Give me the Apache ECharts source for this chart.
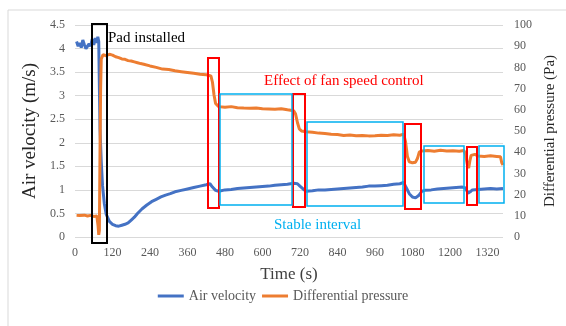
<!DOCTYPE html>
<html>
<head>
<meta charset="utf-8">
<script src="https://cdn.jsdelivr.net/npm/echarts@6/dist/echarts.min.js"></script>
<style>
  html, body { margin: 0; padding: 0; background: #fff; }
  #main { width: 566px; height: 326px; }
</style>
</head>
<body>
<div id="main"></div>
<script>
var myChart = echarts.init(document.getElementById('main'));

// 风速 (m/s)
var velTime = [5, 10, 15, 20, 25, 30, 35, 40, 45, 50, 55, 60, 65, 70, 73, 76, 78, 80, 84, 88, 94, 100, 110, 120, 130, 140, 150, 160, 170, 180, 190, 200, 215, 230, 245, 260, 275, 290, 305, 320, 340, 360, 380, 400, 420, 432, 440, 450, 460, 480, 500, 520, 540, 560, 580, 600, 620, 640, 660, 680, 700, 712, 720, 730, 740, 760, 780, 800, 820, 840, 860, 880, 900, 920, 940, 960, 980, 1000, 1020, 1040, 1052, 1060, 1070, 1080, 1090, 1100, 1110, 1120, 1140, 1160, 1180, 1200, 1220, 1240, 1250, 1258, 1265, 1272, 1290, 1310, 1330, 1350, 1370];
var velocity = [4.15, 4.05, 4.12, 4.02, 4.18, 4.08, 4.00, 3.98, 4.10, 4.05, 4.20, 4.08, 4.22, 4.12, 4.25, 4.15, 3.2, 2.3, 1.6, 1.1, 0.7, 0.48, 0.33, 0.27, 0.24, 0.23, 0.25, 0.27, 0.30, 0.36, 0.42, 0.50, 0.60, 0.68, 0.75, 0.80, 0.85, 0.89, 0.92, 0.96, 0.99, 1.02, 1.05, 1.08, 1.11, 1.13, 1.06, 0.99, 0.97, 1.00, 1.01, 1.03, 1.04, 1.05, 1.06, 1.07, 1.08, 1.10, 1.11, 1.12, 1.14, 1.13, 1.08, 1.02, 0.97, 0.98, 1.00, 1.00, 1.01, 1.02, 1.03, 1.04, 1.05, 1.06, 1.08, 1.08, 1.09, 1.10, 1.12, 1.13, 1.16, 1.05, 0.92, 0.85, 0.83, 0.88, 0.97, 0.99, 1.00, 1.02, 1.03, 1.04, 1.05, 1.06, 1.04, 0.93, 0.96, 1.00, 1.01, 1.02, 1.03, 1.02, 1.03];

// 压差 (Pa)
var presTime = [5, 10, 15, 20, 30, 40, 50, 60, 65, 70, 74, 76, 78, 80, 82, 84, 90, 100, 110, 120, 130, 140, 150, 160, 170, 180, 190, 200, 210, 220, 240, 260, 280, 300, 320, 340, 360, 380, 400, 420, 435, 440, 445, 450, 460, 480, 500, 520, 540, 560, 580, 600, 620, 640, 660, 680, 700, 706, 712, 718, 725, 740, 760, 780, 800, 820, 840, 860, 880, 900, 920, 940, 960, 980, 1000, 1020, 1040, 1052, 1058, 1064, 1070, 1080, 1090, 1096, 1102, 1110, 1130, 1150, 1170, 1190, 1210, 1230, 1245, 1250, 1256, 1260, 1264, 1268, 1280, 1290, 1310, 1330, 1350, 1362, 1366, 1370];
var pressure = [10.2, 9.6, 10.1, 9.8, 10.3, 9.9, 10.2, 9.7, 10.3, 9.9, 5.0, 1.0, 3, 40, 70, 84, 86, 85.5, 86.2, 85.8, 85.0, 84.6, 84.0, 83.8, 83.2, 83.0, 82.6, 82.2, 81.8, 81.5, 80.7, 80.0, 79.2, 79.0, 78.4, 78.0, 77.6, 77.2, 76.8, 76.5, 76.0, 73, 67, 63, 61.5, 61.2, 61.5, 61.0, 60.8, 60.7, 60.9, 60.5, 60.4, 60.3, 60.5, 60.0, 59.6, 58, 54, 51, 50, 49.6, 49.4, 49.0, 48.8, 48.5, 48.3, 47.9, 48.1, 47.8, 47.9, 47.7, 47.8, 48.0, 47.9, 48.2, 48.0, 48.5, 45, 38, 35.5, 35.0, 35.3, 37, 40, 40.6, 40.8, 40.5, 40.9, 40.6, 40.7, 40.5, 40.8, 39, 34, 32.5, 36, 38.5, 39, 38.2, 38.0, 38.3, 38.0, 37.8, 35, 34];

function pairs(xs, ys) {
    return xs.map(function (x, i) { return [x, ys[i]]; });
}

var serif = 'Liberation Serif';
function labelStyle(extra) {
    var s = { color: '#595959', fontFamily: serif, fontSize: 12, formatter: function (v) { return String(v); } };
    for (var k in extra) s[k] = extra[k];
    return s;
}
function note(x, y, text, color) {
    return { type: 'text', x: x, y: y, z: 100,
        style: { text: text, fill: color, fontFamily: serif, fontSize: 15, verticalAlign: 'middle' } };
}
function box(x, y, w, h, color, lw) {
    return { type: 'rect', z: 100, shape: { x: x, y: y, width: w, height: h },
        style: { fill: 'none', stroke: color, lineWidth: lw } };
}

var option = {
    animation: false,
    grid: { left: 75, right: 61, top: 25, bottom: 89 },
    legend: {
        bottom: 18,
        left: 'center',
        icon: 'rect',
        itemWidth: 26,
        itemHeight: 3,
        itemGap: 6,
        textStyle: { color: '#595959', fontFamily: serif, fontSize: 14 },
        data: ['Air velocity', 'Differential pressure']
    },
    xAxis: {
        type: 'value',
        min: 0,
        max: 1370,
        interval: 120,
        name: 'Time (s)',
        nameLocation: 'middle',
        nameGap: 29,
        nameTextStyle: { color: '#404040', fontFamily: serif, fontSize: 17 },
        axisLine: { show: false },
        axisTick: { show: false },
        splitLine: { show: false },
        axisLabel: labelStyle({ showMaxLabel: false, margin: 10 })
    },
    yAxis: [{
        type: 'value',
        min: 0,
        max: 4.5,
        interval: 0.5,
        name: 'Air velocity (m/s)',
        nameLocation: 'middle',
        nameRotate: 90,
        nameGap: 30,
        nameTextStyle: { color: '#262626', fontFamily: serif, fontSize: 19 },
        axisLine: { show: false },
        axisTick: { show: false },
        splitLine: { lineStyle: { color: '#d9d9d9', width: 1 } },
        axisLabel: labelStyle({ margin: 10 })
    }, {
        type: 'value',
        min: 0,
        max: 100,
        interval: 10,
        name: 'Differential pressure (Pa)',
        nameLocation: 'middle',
        nameRotate: 90,
        nameGap: 40,
        nameTextStyle: { color: '#262626', fontFamily: serif, fontSize: 15 },
        axisLine: { show: false },
        axisTick: { show: false },
        splitLine: { show: false },
        axisLabel: labelStyle({ margin: 11 })
    }],
    series: [{
        name: 'Air velocity',
        type: 'line',
        yAxisIndex: 0,
        showSymbol: false,
        color: '#4472C4',
        lineStyle: { width: 3 },
        data: pairs(velTime, velocity)
    }, {
        name: 'Differential pressure',
        type: 'line',
        yAxisIndex: 1,
        showSymbol: false,
        color: '#ED7D31',
        lineStyle: { width: 3 },
        data: pairs(presTime, pressure)
    }],
    graphic: [
        { type: 'rect', shape: { x: 8, y: 10, width: 600, height: 400 }, style: { fill: 'none', stroke: '#d9d9d9', lineWidth: 1 }, z: -1 },
        // 黑框
        box(92, 24, 15, 219, '#000', 2),
        // 红框
        box(208, 58, 11, 150, '#ff0000', 2),
        box(293, 94, 12, 113, '#ff0000', 2),
        box(405, 124, 16, 85, '#ff0000', 2),
        box(467, 147, 10, 58, '#ff0000', 2),
        // 蓝框
        box(220, 94, 72, 111, '#00b0f0', 1.5),
        box(307, 122, 96, 84, '#00b0f0', 1.5),
        box(424, 146, 40, 57, '#00b0f0', 1.5),
        box(479, 146, 25, 57, '#00b0f0', 1.5),
        // 文字
        note(108, 38, 'Pad installed', '#000'),
        note(264, 81, 'Effect of fan speed control', '#ff0000'),
        note(274, 225, 'Stable interval', '#00b0f0')
    ]
};

myChart.setOption(option);
</script>
</body>
</html>
